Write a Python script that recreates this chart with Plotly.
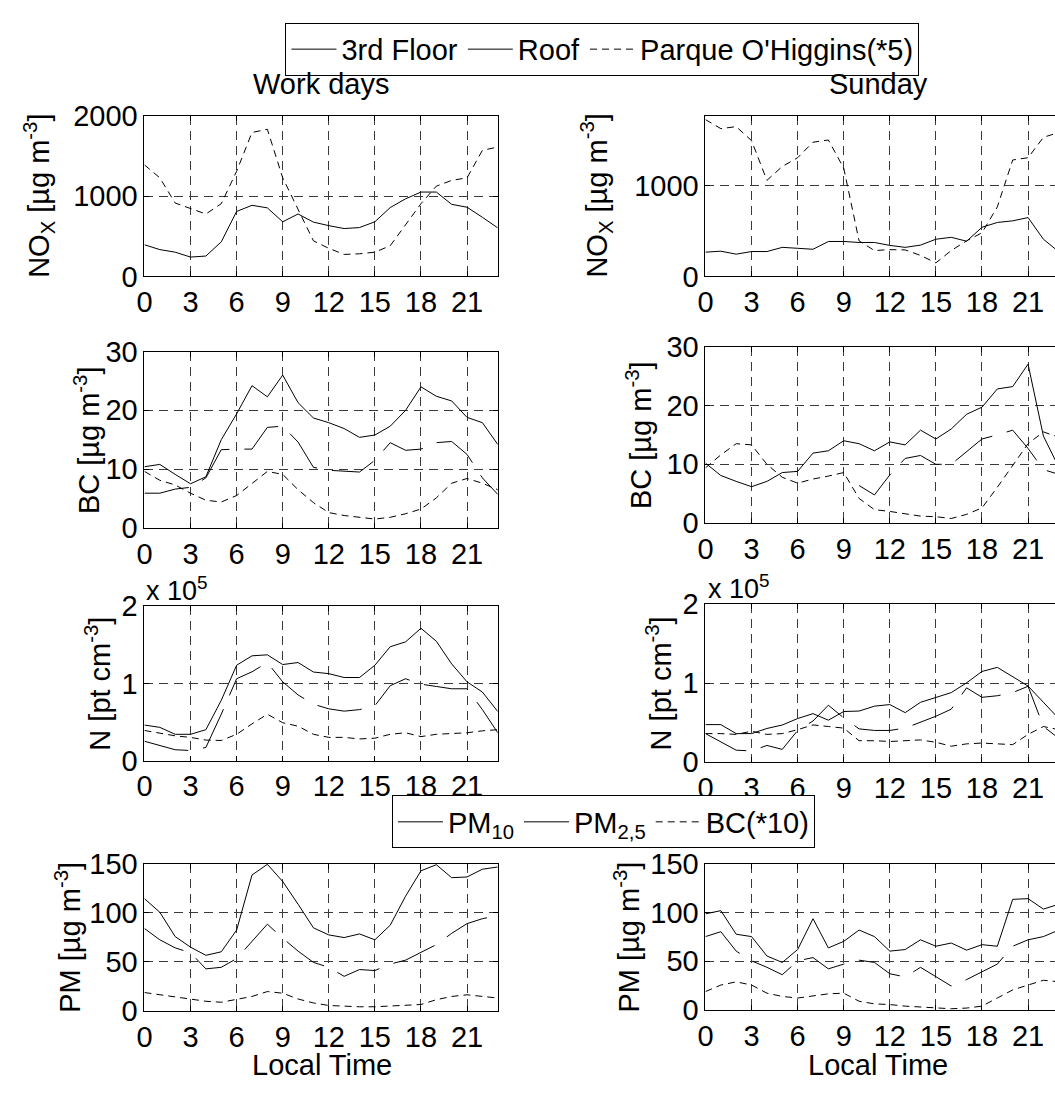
import plotly.graph_objects as go

# ---------------- data ----------------
hours = list(range(24))
x_ticks = [0, 3, 6, 9, 12, 15, 18, 21]

# NOx [ug m-3]
nox_wd_3rd = [394, 334, 302, 241, 254, 430, 809, 885, 853, 680, 777, 676,
              632, 596, 608, 680, 857, 966, 1050, 1050, 897, 861, 736, 604]
nox_wd_parque = [1388, 1227, 913, 845, 777, 905, 1308, 1791, 1831, 1227, 825, 443,
                 350, 274, 282, 302, 382, 644, 905, 1123, 1195, 1227, 1569, 1610]
nox_su_3rd = [268, 279, 246, 275, 275, 321, 311, 300, 386, 386, 375, 375,
              343, 321, 346, 411, 432, 389, 543, 596, 614, 650, 411, 272]
nox_su_parque = [1732, 1632, 1654, 1500, 1061, 1214, 1311, 1482, 1507, 1196, 393, 286,
                 296, 293, 232, 150, 286, 393, 482, 768, 1286, 1311, 1536, 1590]

# BC [ug m-3]
bc_wd_3rd = [10.4, 10.8, 9.1, 7.5, 8.7, 15.0, 19.4, 24.2, 22.3, 26.0, 21.3, 18.7,
             17.9, 16.9, 15.4, 15.8, 17.3, 20.0, 24.0, 22.4, 21.6, 18.8, 17.9, 14.2]
bc_wd_roof = [5.9, 5.9, 6.6, 6.9, 8.5, 13.3, 13.4, 13.4, 17.1, 17.3, 14.6, 10.3,
              9.8, 9.6, 9.5, 11.5, 14.5, 13.2, 13.4, 14.5, 14.7, 12.5, 8.5, 5.7]
bc_wd_parque = [9.6, 8.1, 7.3, 5.9, 4.7, 4.4, 5.5, 7.6, 9.6, 9.1, 6.5, 4.3,
                2.6, 2.1, 1.8, 1.5, 1.8, 2.4, 3.2, 5.1, 7.6, 8.4, 7.6, 6.5]
bc_su_3rd = [10.2, 8.1, 7.1, 6.2, 7.1, 8.6, 8.8, 11.9, 12.3, 14.0, 13.5, 12.3,
             13.8, 13.3, 15.8, 14.3, 16.0, 18.5, 19.7, 22.8, 23.2, 27.0, 14.8, 9.5]
bc_su_roof = [None, None, None, None, None, None, None, None, None, None, 6.4, 4.8,
              8.2, 11.0, 11.5, 10.0, 10.0, 12.1, 14.3, 15.0, 15.8, 12.7, 9.1, 8.3]
bc_su_parque = [9.4, 11.6, 13.5, 13.3, 10.0, 7.8, 6.8, 7.5, 8.0, 8.6, 4.2, 2.3,
                2.0, 1.6, 1.2, 1.1, 0.8, 1.5, 2.6, 6.1, 9.9, 13.5, 15.5, 14.6]

# N [pt cm-3]
n_wd_3rd = [46000, 43000, 34000, 34000, 40000, 78000, 123500, 135700, 137000, 124400, 127000, 114700,
            112600, 107600, 107600, 123500, 147500, 153800, 171400, 154600, 125200, 102000, 88700, 63500]
n_wd_roof = [25000, 19000, 14000, 13000, 17000, 60000, 106000, 115000, 127000, 102000, 85000, 73000,
             67000, 64000, 66000, 71000, 97000, 106000, 99000, 96000, 93000, 93000, 66000, 36000]
n_wd_parque = [39000, 35000, 32000, 30000, 26500, 26000, 34000, 47500, 60000, 49000, 44500, 34000,
               30000, 30000, 28000, 29000, 34000, 36000, 31000, 34000, 35000, 36000, 38500, 40000]
n_su_3rd = [47400, 47400, 36000, 36000, 42500, 46900, 55100, 61300, 53000, 64000, 64600, 70800,
            72800, 62600, 75700, 81900, 88000, 100400, 114800, 120000, 108600, 96300, 75700, 55000]
n_su_roof = [36000, 25000, 15000, 14000, 21000, 16000, 40000, 52000, 72000, 56000, 42000, 40000,
             40000, 43000, 50000, 58000, 67000, 94000, 82000, 84000, 88000, 96000, 45000, 30000]
n_su_parque = [36000, 36000, 35000, 39000, 35000, 36000, 41000, 47000, 45000, 43000, 27000, 27000,
               26000, 27000, 28000, 25000, 20000, 23000, 24000, 23000, 22000, 35000, 45000, 41000]

# PM [ug m-3]
pm10_wd = [114.4, 100.6, 75.8, 65.0, 56.7, 60.3, 82.4, 138.5, 149.4, 131.9, 108.8, 84.7,
           77.5, 74.8, 78.5, 72.5, 87.4, 117.0, 142.8, 149.0, 135.8, 136.5, 144.4, 146.7]
pm25_wd = [84.0, 72.5, 64.3, 59.3, 42.9, 44.5, 53.4, 70.9, 88.4, 74.2, 61.0, 49.5,
           44.5, 35.3, 42.2, 41.2, 47.8, 51.8, 59.3, 67.6, 79.1, 89.0, 94.0, 97.3]
bc10_wd = [18.8, 16.5, 14.8, 12.2, 9.9, 8.9, 11.5, 14.8, 19.8, 18.1, 12.2, 8.2,
           5.6, 4.9, 4.3, 4.3, 4.9, 5.6, 6.6, 11.5, 14.8, 16.5, 14.8, 13.2]
pm10_su = [98.6, 101.9, 77.7, 75.3, 55.4, 48.8, 62.0, 93.6, 63.7, 70.4, 82.0, 75.3,
           60.4, 62.0, 72.0, 65.4, 68.7, 61.4, 67.0, 65.4, 113.5, 114.2, 103.5, 108.5]
pm25_su = [75.3, 80.3, 60.4, 50.4, 43.8, 36.2, 50.4, 53.8, 42.2, 47.1, 51.1, 48.8,
           37.2, 33.9, 43.8, 33.9, 24.6, 31.2, 38.8, 47.1, 65.4, 72.0, 75.3, 82.0]
bc10_su = [18.9, 25.6, 28.9, 25.6, 17.3, 13.9, 12.3, 14.6, 16.6, 17.3, 9.0, 6.3,
           5.6, 4.0, 3.0, 2.3, 1.3, 2.0, 4.0, 12.3, 20.6, 25.6, 30.5, 28.9]

# ---------------- styling ----------------
W, H = 1055, 1093
FONT = "Liberation Sans, Arial, Helvetica, sans-serif"
FS = 29

solid = dict(color="black", width=1)
longdash = dict(color="black", width=1, dash="45px,15px")
shortdash = dict(color="black", width=1, dash="7px,5px")


def px_x(p):
    return p / W


def px_y(p):
    return 1 - p / H


# panel geometry in pixels: (left, right, top, bottom)
panels = {
    1: (137.5, 493.5, 102.7, 268.3),
    2: (702.8, 1055, 102.7, 268.3),
    3: (137.5, 493.5, 345.7, 527.3),
    4: (702.8, 1055, 340.5, 522.5),
    5: (137.5, 493.5, 608.0, 767.0),
    6: (702.8, 1055, 606.0, 768.5),
    7: (137.5, 493.5, 873.3, 1025.0),
    8: (702.8, 1055, 873.3, 1024.0),
}

yranges = {1: [0, 2000], 2: [0, 1775], 3: [0, 30], 4: [0, 30],
           5: [0, 200000], 6: [0, 200000], 7: [0, 150], 8: [0, 150]}
yticks = {1: [0, 1000, 2000], 2: [0, 1000], 3: [0, 10, 20, 30], 4: [0, 10, 20, 30],
          5: [0, 100000, 200000], 6: [0, 100000, 200000],
          7: [0, 50, 100, 150], 8: [0, 50, 100, 150]}
yticktext = {5: ["0", "1", "2"], 6: ["0", "1", "2"]}

fig = go.Figure()


def add(panel, y, line, name, legend=None):
    suffix = "" if panel == 1 else str(panel)
    fig.add_trace(go.Scatter(
        x=hours, y=y, mode="lines", line=line, name=name,
        xaxis="x" + suffix, yaxis="y" + suffix,
        connectgaps=False, hoverinfo="skip",
        showlegend=legend is not None, legend=legend or "legend",
    ))


# NOx
add(1, nox_wd_3rd, solid, "3rd Floor", "legend")
add(1, nox_wd_parque, shortdash, "Parque O'Higgins(*5)", "legend")
add(2, nox_su_3rd, solid, "3rd Floor")
add(2, nox_su_parque, shortdash, "Parque O'Higgins(*5)")
# BC
add(3, bc_wd_3rd, solid, "3rd Floor")
add(3, bc_wd_roof, longdash, "Roof", "legend")
add(3, bc_wd_parque, shortdash, "Parque O'Higgins(*5)")
add(4, bc_su_3rd, solid, "3rd Floor")
add(4, bc_su_roof, longdash, "Roof")
add(4, bc_su_parque, shortdash, "Parque O'Higgins(*5)")
# N
add(5, n_wd_3rd, solid, "3rd Floor")
add(5, n_wd_roof, longdash, "Roof")
add(5, n_wd_parque, shortdash, "Parque O'Higgins(*5)")
add(6, n_su_3rd, solid, "3rd Floor")
add(6, n_su_roof, longdash, "Roof")
add(6, n_su_parque, shortdash, "Parque O'Higgins(*5)")
# PM
add(7, pm10_wd, solid, "PM<sub>10</sub>", "legend2")
add(7, pm25_wd, longdash, "PM<sub>2,5</sub>", "legend2")
add(7, bc10_wd, shortdash, "BC(*10)", "legend2")
add(8, pm10_su, solid, "PM10")
add(8, pm25_su, longdash, "PM2,5")
add(8, bc10_su, shortdash, "BC(*10)")

# legend order: 3rd Floor, Roof, Parque
fig.data[0].legendrank = 1
fig.data[5].legendrank = 2
fig.data[1].legendrank = 3

layout = {}
tickfont = dict(family=FONT, size=FS, color="black")
grid = dict(showgrid=True, gridcolor="#3a3a3a", gridwidth=1, griddash="9px,6px")
for p, (l, r, t, b) in panels.items():
    suffix = "" if p == 1 else str(p)
    right_col = p % 2 == 0
    xr = [0, 23] if not right_col else [0, (r - l) / ((493.5 - 137.5) / 23)]
    layout["xaxis" + suffix] = dict(
        domain=[px_x(l), px_x(r)], range=xr, anchor="y" + suffix,
        tickmode="array", tickvals=x_ticks, ticks="inside", ticklen=5,
        tickcolor="black", showline=True, linecolor="black", linewidth=1,
        mirror="allticks", zeroline=False, tickfont=tickfont, fixedrange=True,
        **grid,
    )
    yax = dict(
        domain=[px_y(b), px_y(t)], range=yranges[p], anchor="x" + suffix,
        tickmode="array", tickvals=yticks[p], ticks="inside", ticklen=5,
        tickcolor="black", showline=True, linecolor="black", linewidth=1,
        mirror=False if right_col else "allticks", zeroline=False,
        tickfont=tickfont, fixedrange=True, **grid,
    )
    if p in yticktext:
        yax["ticktext"] = yticktext[p]
    layout["yaxis" + suffix] = yax

annotations = []


def text(x, y, s, angle=0, xanchor="center", yanchor="middle", size=FS):
    annotations.append(dict(
        x=px_x(x), y=px_y(y), xref="paper", yref="paper", text=s,
        showarrow=False, textangle=angle, xanchor=xanchor, yanchor=yanchor,
        font=dict(family=FONT, size=size, color="black"),
    ))


text(315, 70, "Work days")
text(877, 70, "Sunday")
ylab_ug = "[\u00b5g m<sup>-3</sup>]"
text(31, 185.5, "NO<sub>X</sub> " + ylab_ug, angle=-90)
text(593, 185.5, "NO<sub>X</sub> " + ylab_ug, angle=-90)
text(79, 436.5, "BC " + ylab_ug, angle=-90)
text(636, 431.5, "BC " + ylab_ug, angle=-90)
text(91, 687.5, "N [pt cm<sup>-3</sup>]", angle=-90)
text(656, 687.5, "N [pt cm<sup>-3</sup>]", angle=-90)
text(61, 949, "PM " + ylab_ug, angle=-90)
text(624, 949, "PM " + ylab_ug, angle=-90)
text(137, 590, "x 10<sup>5</sup>", xanchor="left", size=27)
text(703, 588, "x 10<sup>5</sup>", xanchor="left", size=27)
text(316, 1081, "Local Time")
text(877, 1081, "Local Time")

legend_common = dict(
    orientation="h", xanchor="center", yanchor="top",
    bordercolor="black", borderwidth=1, bgcolor="white",
    font=dict(family=FONT, size=FS, color="black"),
    itemwidth=45, tracegroupgap=0,
)

fig.update_layout(
    width=W, height=H, margin=dict(l=0, r=0, t=0, b=0, pad=0),
    paper_bgcolor="white", plot_bgcolor="white",
    font=dict(family=FONT, size=FS, color="black"),
    annotations=annotations,
    legend=dict(x=px_x(599), y=px_y(7), **legend_common),
    legend2=dict(x=px_x(600), y=px_y(803), **legend_common),
    **layout,
)

fig.write_html("out.html", config={"displayModeBar": False})
